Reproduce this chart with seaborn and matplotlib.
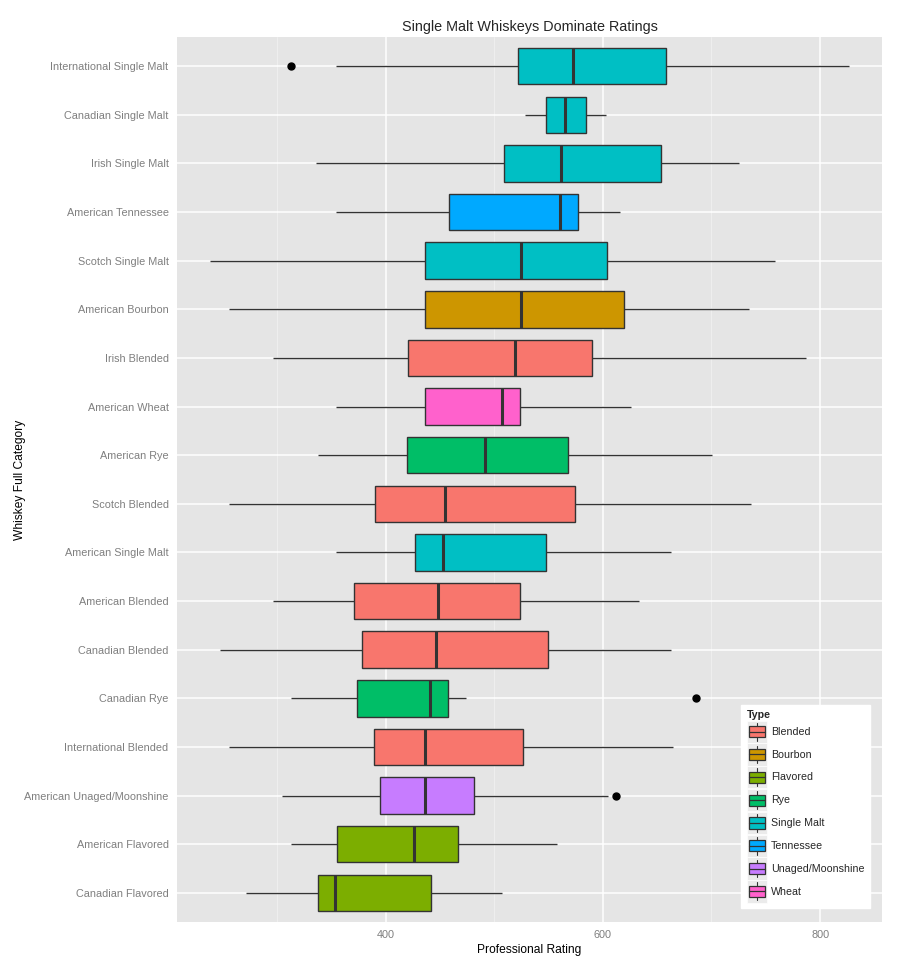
import matplotlib
matplotlib.use("Agg")
import matplotlib.pyplot as plt
from matplotlib.patches import Rectangle, Patch
from matplotlib.lines import Line2D
from matplotlib.legend_handler import HandlerBase
import seaborn as sns
import pandas as pd

# ---------------- data ----------------
categories = [
    "International Single Malt", "Canadian Single Malt", "Irish Single Malt",
    "American Tennessee", "Scotch Single Malt", "American Bourbon",
    "Irish Blended", "American Wheat", "American Rye", "Scotch Blended",
    "American Single Malt", "American Blended", "Canadian Blended",
    "Canadian Rye", "International Blended", "American Unaged/Moonshine",
    "American Flavored", "Canadian Flavored",
]
types = [
    "Single Malt", "Single Malt", "Single Malt", "Tennessee", "Single Malt",
    "Bourbon", "Blended", "Wheat", "Rye", "Blended", "Single Malt", "Blended",
    "Blended", "Rye", "Blended", "Unaged/Moonshine", "Flavored", "Flavored",
]
whisker_lo = [354.4, 528.3, 336.3, 354.4, 238.8, 256.1, 296.6, 354.4, 338.0,
              256.1, 354.4, 296.6, 247.7, 312.7, 256.1, 304.6, 312.7, 271.7]
q1 = [521.9, 547.3, 509.3, 458.6, 436.7, 435.9, 420.7, 435.9, 419.8,
      390.7, 427.0, 370.9, 378.1, 373.4, 389.0, 394.5, 355.3, 337.6]
median = [572.2, 565.4, 561.6, 560.3, 524.5, 524.5, 519.4, 506.8, 491.1,
          454.4, 452.7, 448.5, 446.0, 440.5, 435.9, 435.9, 426.6, 353.6]
q3 = [658.2, 584.4, 653.6, 576.8, 603.4, 619.4, 589.9, 524.1, 568.4,
      574.3, 548.1, 524.1, 549.4, 457.8, 526.2, 481.0, 467.1, 442.2]
whisker_hi = [827.0, 603.0, 725.3, 616.0, 758.6, 734.6, 786.9, 625.7, 700.4,
              736.3, 662.4, 633.3, 662.4, 474.3, 664.6, 605.1, 557.4, 506.8]
outlier_cats = ["International Single Malt", "Canadian Rye", "American Unaged/Moonshine"]
outlier_vals = [312.7, 686.0, 612.5]

type_levels = ["Blended", "Bourbon", "Flavored", "Rye", "Single Malt",
               "Tennessee", "Unaged/Moonshine", "Wheat"]
type_colors = ["#F8766D", "#CD9600", "#7CAE00", "#00BE67", "#00BFC4",
               "#00A9FF", "#C77CFF", "#FF61CC"]

# Build a small sample per category whose five-number summary matches the picture
rows = []
for i, cat in enumerate(categories):
    vals = [whisker_lo[i], whisker_lo[i], q1[i], q1[i], median[i],
            q3[i], q3[i], whisker_hi[i], whisker_hi[i]]
    for oc, ov in zip(outlier_cats, outlier_vals):
        if oc == cat:
            if ov < q1[i]:
                vals[0] = ov
            else:
                vals[8] = ov
    for v in vals:
        rows.append({"category": cat, "type": types[i], "rating": v})
df = pd.DataFrame(rows)

# ---------------- style ----------------
sns.set_style("darkgrid")
plt.rcParams["font.family"] = ["Liberation Sans", "DejaVu Sans"]

fig = plt.figure(figsize=(8.99, 9.66), dpi=100)
ax = fig.add_axes([177 / 899, 44 / 966, 705 / 899, 885 / 966])
ax.set_facecolor("#E5E5E5")
ax.set_axisbelow(True)

palette = dict(zip(type_levels, type_colors))
sns.boxplot(
    data=df, x="rating", y="category", hue="type", order=categories,
    hue_order=type_levels, palette=palette, dodge=False, width=0.75,
    saturation=1, linecolor="#333333", linewidth=1.0, showcaps=False,
    flierprops=dict(marker="o", markersize=5.0, markerfacecolor="black",
                    markeredgecolor="black"),
    medianprops=dict(linewidth=2.2, color="#333333"),
    legend=False, orient="h", ax=ax,
)

ax.set_xlim(208, 857)
ax.set_ylim(len(categories) - 0.4, -0.6)
ax.set_xticks([400, 600, 800])
ax.set_xticks([300, 500, 700], minor=True)
ax.grid(which="major", color="white", linewidth=1.1)
ax.grid(which="minor", axis="x", color="#F2F2F2", linewidth=0.55)
ax.tick_params(axis="both", which="major", colors="#7F7F7F", length=3.6,
               width=0.8, labelsize=7.8, pad=2.5)
ax.tick_params(axis="x", which="minor", length=0)
for s in ax.spines.values():
    s.set_visible(False)

ax.set_xlabel("Professional Rating", fontsize=8.64, color="black")
ax.set_ylabel("Whiskey Full Category", fontsize=8.64, color="black")
ax.xaxis.set_label_coords(0.5, -0.0249)
ax.yaxis.set_label_coords(-0.2142, 0.5)
ax.set_title("Single Malt Whiskeys Dominate Ratings", fontsize=10.4, pad=4)


class BoxKeyHandler(HandlerBase):
    def create_artists(self, legend, orig_handle, xdescent, ydescent, width,
                       height, fontsize, trans):
        x0, y0 = -xdescent, -ydescent
        bg = Rectangle((x0, y0), width, height, facecolor="#EBEBEB",
                       edgecolor="white", lw=0.5, transform=trans)
        whisk = Line2D([x0 + width / 2] * 2, [y0 + 0.1 * height, y0 + 0.9 * height],
                       color="#333333", lw=0.8, transform=trans)
        box = Rectangle((x0 + 0.1 * width, y0 + 0.25 * height), 0.8 * width,
                        0.5 * height, facecolor=orig_handle.get_facecolor(),
                        edgecolor="#333333", lw=0.9, transform=trans)
        med = Line2D([x0 + 0.1 * width, x0 + 0.9 * width],
                     [y0 + 0.5 * height] * 2, color="#333333", lw=0.9,
                     transform=trans)
        return [bg, whisk, box, med]


handles = [Patch(facecolor=c, label=t) for t, c in zip(type_levels, type_colors)]
leg = ax.legend(
    handles=handles, handler_map={Patch: BoxKeyHandler()}, title="Type",
    loc="lower right", bbox_to_anchor=(0.983, 0.016), frameon=True,
    fancybox=False, framealpha=1, edgecolor="white", facecolor="white",
    fontsize=7.65, title_fontsize=7.65, handlelength=1.9, handleheight=2.85,
    labelspacing=0.05, handletextpad=0.4, borderpad=0.5, borderaxespad=0,
    alignment="left",
)
leg.get_title().set_fontweight("bold")

fig.savefig("out.png", dpi=100)
